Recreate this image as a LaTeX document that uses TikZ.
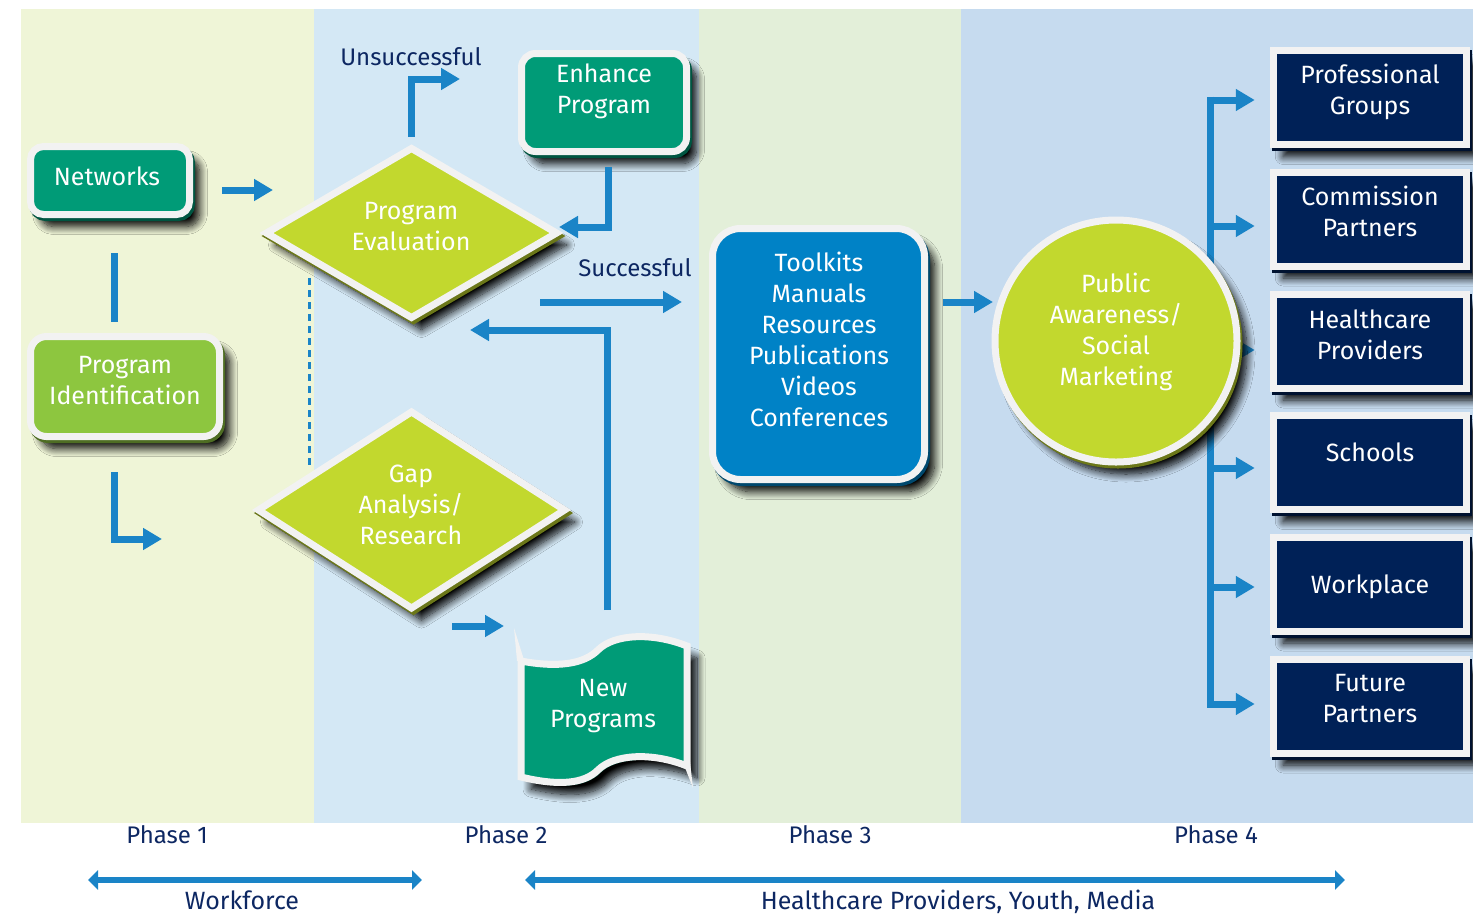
\documentclass[tikz,border=0pt]{standalone}
\usepackage{fontspec}
\setmainfont{Fira Sans}
\usetikzlibrary{arrows.meta,shapes.geometric,shadows,shadows.blur}
\definecolor{bandA}{HTML}{EFF5D7}
\definecolor{bandB}{HTML}{D4E8F5}
\definecolor{bandC}{HTML}{E3EFD9}
\definecolor{bandD}{HTML}{C6DBEF}
\definecolor{tealbox}{HTML}{009B77}
\definecolor{limeA}{HTML}{8DC63F}
\definecolor{limeB}{HTML}{C2D82E}
\definecolor{bluebox}{HTML}{0082C6}
\definecolor{navybox}{HTML}{002157}
\definecolor{arrowblue}{HTML}{1A84C7}
\definecolor{navytext}{HTML}{0D2762}
\definecolor{rim}{HTML}{F2F2F2}
\begin{document}
\begin{tikzpicture}[x=1pt,y=-1pt,
  shapebox/.style={fill=#1, draw=rim, line width=7pt, inner sep=0pt,
    blur shadow={shadow xshift=10pt,shadow yshift=-12pt,shadow blur radius=8pt,shadow opacity=100,shadow blur steps=12},
    general shadow={draw=#1!55!black, fill=#1!55!black, shadow xshift=2pt, shadow yshift=-3pt}},
  txt/.style={text=white, font=\fontsize{25}{31}\selectfont, align=center, inner sep=0pt},
  lbl/.style={text=navytext, font=\fontsize{24}{30}\selectfont, inner sep=0pt},
  arr/.style={draw=arrowblue, line width=7pt, -{Triangle[length=19pt,width=21pt]}},
  ln/.style={draw=arrowblue, line width=7pt},
  dbl/.style={draw=arrowblue, line width=6pt, {Triangle[length=10pt,width=19pt]}-{Triangle[length=10pt,width=19pt]}},
  navy/.style={shapebox=navybox, rectangle, minimum width=193pt, minimum height=94pt}
]
\useasboundingbox (0,0) rectangle (1473,914);
% phase bands
\fill[bandA] (21,9) rectangle (314,823);
\fill[bandB] (314,9) rectangle (699,823);
\fill[bandC] (699,9) rectangle (961,823);
\fill[bandD] (961,9) rectangle (1473,823);

% right-hand boxes
\node[navy] (pg) at (1369.75,97.5) {};
\node[navy] (cp) at (1369.75,219) {};
\node[navy] (hp) at (1369.75,341) {};
\node[navy] (sc) at (1369.75,462.5) {};
\node[navy] (wp) at (1369.75,584) {};
\node[navy] (fp) at (1369.75,706) {};
\node[txt] (pg-t) at (1370,91.5) {Professional\\Groups};
\node[txt] (cp-t) at (1370,211.5) {Commission\\Partners};
\node[txt] (hp-t) at (1370,334.5) {Healthcare\\Providers};
\node[txt] (sc-t) at (1370,452) {Schools};
\node[txt] (wp-t) at (1370,587) {Workplace};
\node[txt] (fp-t) at (1370,698.5) {Future\\Partners};

% bracket from the circle to the boxes
\coordinate (brt) at (1210,96.5);
\coordinate (brb) at (1210,707.5);
\draw[ln] (brt) -- (brb);
\draw[arr] (1210,100) -- ([xshift=-15pt]pg.west |- 0,100);
\draw[arr] (1210,226) -- ([xshift=-15pt]cp.west |- 0,226);
\draw[arr] (1210,350) -- ([xshift=-15pt]hp.west |- 0,350);
\draw[arr] (1210,468) -- ([xshift=-15pt]sc.west |- 0,468);
\draw[arr] (1210,587) -- ([xshift=-15pt]wp.west |- 0,587);
\draw[arr] (1210,704) -- ([xshift=-15pt]fp.west |- 0,704);

% circle
\node[shapebox=limeB, circle, minimum size=242pt] (pa) at (1116,341) {};
\node[txt] (pa-t) at (1116,331.5) {Public\\Awareness/\\Social\\Marketing};

% toolkits
\node[shapebox=bluebox, rectangle, rounded corners=28pt, minimum width=212pt, minimum height=251pt] (tk) at (818.5,354) {};
\node[txt] (tk-t) at (819,339) {Toolkits\\Manuals\\Resources\\Publications\\Videos\\Conferences};

% phase 1 boxes
\node[shapebox=tealbox, rectangle, rounded corners=13pt, minimum width=159pt, minimum height=68pt] (net) at (110,180.5) {};
\node[txt] (net-t) at (107,176) {Networks};
\node[shapebox=limeA, rectangle, rounded corners=16pt, minimum width=189pt, minimum height=100pt] (pid) at (125,386.5) {};
\node[txt] (pid-t) at (125,381) {Program\\Identification};

% phase 2 shapes
\node[shapebox=tealbox, rectangle, rounded corners=14pt, minimum width=165pt, minimum height=98pt] (enh) at (604,102.5) {};
\node[txt] (enh-t) at (604,91.5) {Enhance\\Program};
\node[shapebox=limeB, diamond, minimum width=293pt, minimum height=172pt] (pe) at (411.5,233) {};
\node[txt] (pe-t) at (411,227) {Program\\Evaluation};
\node[shapebox=limeB, diamond, minimum width=309pt, minimum height=199pt] (gap) at (411.5,510) {};
\node[txt] (gap-t) at (411,505) {Gap\\Analysis/\\Research};

% new programs (wavy document)
\path[shapebox=tealbox] (521,661) .. controls (558,668) and (584,664) .. (598,650)
  .. controls (614,634) and (652,632) .. (687,646) -- (687,766)
  .. controls (652,752) and (614,754) .. (598,770)
  .. controls (584,784) and (558,786) .. (521,777) -- cycle;
\fill[rim] (514,628) -- (524,660) -- (517,661) -- cycle;
\fill[rim] (693,788) -- (684,765) -- (690,762) -- cycle;
\node[txt] (np-t) at (603,706.5) {New\\Programs};

% connectors
\draw[ln] (114,253) -- (114,322);
\draw[arr] (222,190) -- (273,190);
\draw[arr] (114,472) |- (162,539);
\draw[arr] (411,137) |- (460,79);
\draw[arr] (608,167) |- (559,227);
\draw[arr] (540,302) -- (682,302);
\draw[arr] (607,610) |- (470,330);
\draw[arr] (452,626) -- (504,626);
\draw[arrowblue, line width=3pt, dash pattern=on 7pt off 5pt] (309,278) -- (309,468);
\draw[arr] (943,302) -- (993,302);

% labels
\node[lbl, anchor=base] (uns) at (411,65) {Unsuccessful};
\node[lbl, anchor=base] (suc) at (635,276) {Successful};
\node[lbl, anchor=base] (ph1) at (167,843) {Phase 1};
\node[lbl, anchor=base] (ph2) at (506,843) {Phase 2};
\node[lbl, anchor=base] (ph3) at (830,843) {Phase 3};
\node[lbl, anchor=base] (ph4) at (1216,843) {Phase 4};

% audiences
\coordinate (wa) at (88,880);
\coordinate (wb) at (422,880);
\coordinate (ha) at (525,880);
\coordinate (hb) at (1345,880);
\draw[dbl] (wa) -- (wb);
\draw[dbl] (ha) -- (hb);
\node[lbl, anchor=base, font=\fontsize{25}{30}\selectfont] (wf) at (242,909) {Workforce};
\node[lbl, anchor=base, font=\fontsize{25}{30}\selectfont] (hc) at (958,909) {Healthcare Providers, Youth, Media};
\end{tikzpicture}
\end{document}
